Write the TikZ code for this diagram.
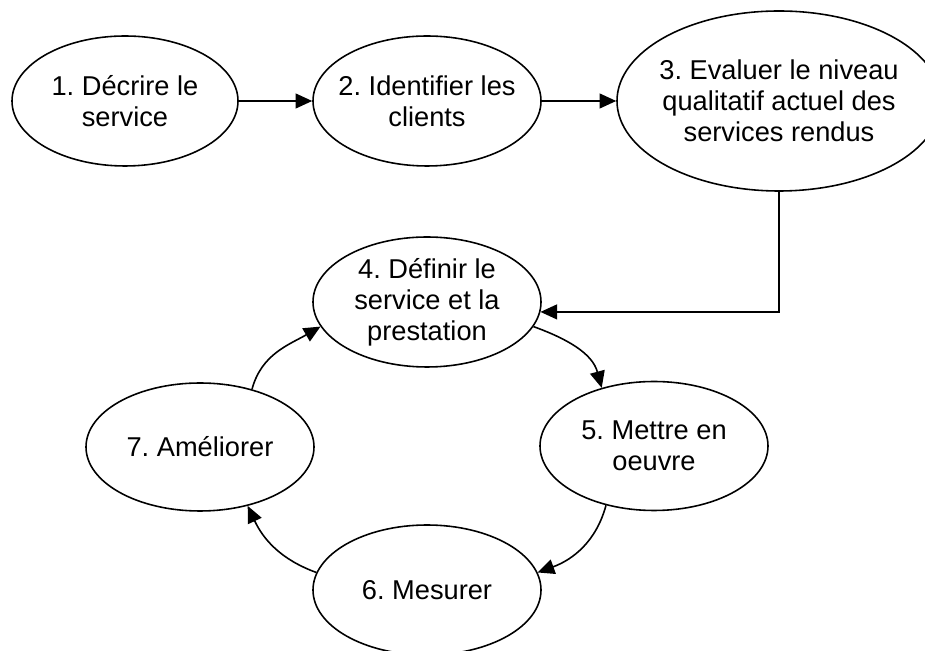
\documentclass[tikz,border=0pt]{standalone}
\usepackage{fontspec}
\setmainfont{Liberation Sans}
\usetikzlibrary{shapes.geometric, arrows.meta}
\frenchspacing

\tikzset{
  etape/.style={draw, ellipse, line width=0.9pt, inner sep=-6pt,
    minimum width=4.56cm, minimum height=2.6cm, align=center,
    font=\fontsize{15.5}{17.6}\selectfont},
  fleche/.style={-{Triangle[length=9.5pt,width=8.5pt]}, line width=0.9pt}
}

\begin{document}
\begin{tikzpicture}
\useasboundingbox (0,0) rectangle (18.5,13.02);

% Top row
\node[etape, minimum width=4.52cm] (decrire) at (2.5,11.0) {1. Décrire le\\service};
\node[etape] (identifier) at (8.54,11.0) {2. Identifier les\\clients};
\node[etape, minimum width=6.48cm, minimum height=3.6cm] (evaluer) at (15.58,11.0)
  {3. Evaluer le niveau\\qualitatif actuel des\\services rendus};

% Cycle
\node[etape] (definir) at (8.54,6.98) {4. Définir le\\service et la\\prestation};
\node[etape, minimum height=2.58cm] (mettre) at (13.08,4.1) {5. Mettre en\\oeuvre};
\node[etape] (mesurer) at (8.54,1.22) {6. Mesurer};
\node[etape, minimum height=2.56cm] (ameliorer) at (4.0,4.08) {7. Améliorer};

% Arrows
\draw[fleche] (decrire) -- (identifier);
\draw[fleche] (identifier) -- (evaluer);
\draw[fleche] (evaluer.south) |- (definir.-5.6);
\draw[fleche] (definir.-13) to[out=-20, in=105] (mettre.132);
\draw[fleche] (mettre.-129) to[out=-105, in=20] (mesurer.9);
\draw[fleche] (mesurer.171) to[out=160, in=-65] (ameliorer.-51);
\draw[fleche] (ameliorer.48) to[out=75, in=210] (definir.193);
\end{tikzpicture}
\end{document}
